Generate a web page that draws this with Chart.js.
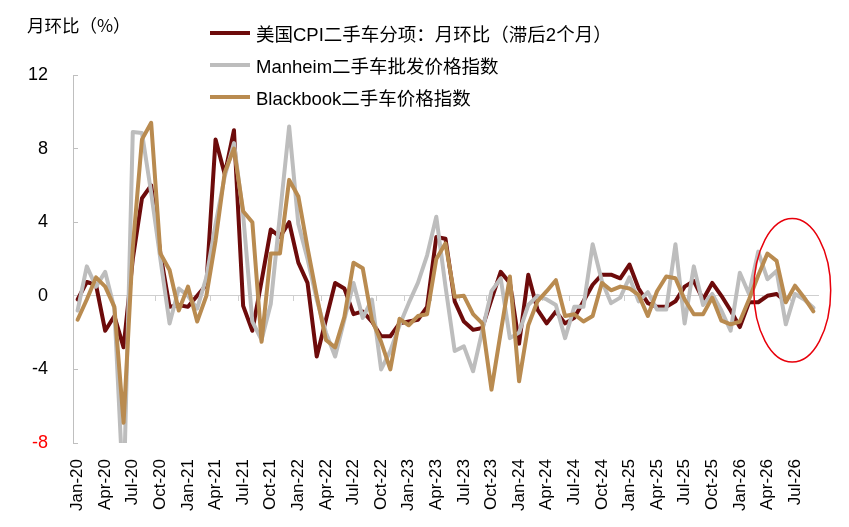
<!DOCTYPE html>
<html>
<head>
<meta charset="utf-8">
<script src="https://cdn.jsdelivr.net/npm/chart.js@4.4.1/dist/chart.umd.min.js"></script>
<style>
  body { margin: 0; background: #fff; }
  #wrap { position: relative; width: 849px; height: 527px; font-family: "Liberation Sans", "Noto Sans CJK SC", sans-serif; color: #000; }
  #yTitle { position: absolute; left: 27px; top: 14px; font-size: 17.5px; white-space: nowrap; font-family: "Noto Sans CJK SC", sans-serif; line-height: 22px; }
  #legend { position: absolute; left: 210px; top: 17px; font-size: 18.5px; }
  .item { height: 32px; display: flex; align-items: center; white-space: nowrap; }
  .swatch { width: 40px; height: 4px; margin-right: 6px; }
</style>
</head>
<body>
<div id="wrap">
  <canvas id="usedCarChart" width="849" height="527"></canvas>
  <div id="yTitle">月环比（%）</div>
  <div id="legend"></div>
</div>
<script>
// Month labels, Jan-20 .. Sep-26
var monthNames = ["Jan", "Feb", "Mar", "Apr", "May", "Jun", "Jul", "Aug", "Sep", "Oct", "Nov", "Dec"];
var labels = [];
for (var yr = 20; yr <= 26; yr++) {
  for (var m = 0; m < 12; m++) labels.push(monthNames[m] + "-" + yr);
}
labels = labels.slice(0, 81);

var seriesNames = ["美国CPI二手车分项：月环比（滞后2个月）", "Manheim二手车批发价格指数", "Blackbook二手车价格指数"];

// CPI used cars m/m, shifted 2 months (ends earlier)
var cpiUsedCars = [
  -0.2, 0.75, 0.6, -1.9, -1.1, -2.8, 2.0, 5.3, 6.0, 2.3,
  -0.6, -0.5, -0.6, 0.0, 0.6, 8.5, 6.6, 9.0, -0.55, -1.9,
  0.8, 3.6, 3.2, 4.0, 1.8, 0.7, -3.3, -1.3, 0.7, 0.4,
  -1.0, -0.85, -1.4, -2.2, -2.2, -1.5, -1.4, -1.3, -0.6, 3.2,
  3.1, -0.3, -1.4, -1.85, -1.75, -0.2, 1.3, 0.7, -2.6, 1.15,
  -0.75, -1.5, -0.85, -1.5, -1.2, -0.3, 0.6, 1.15, 1.15, 0.95,
  1.7, 0.4, -0.4, -0.6, -0.6, -0.3, 0.5, 0.8, -0.2, 0.7,
  0.0, -0.8, -1.7, -0.35, -0.35, 0.0, 0.1, -0.3
];

// Manheim wholesale used vehicle index m/m
var manheim = [
  -0.8, 1.6, 0.5, 1.3, -0.7, -11, 8.9, 8.85, 5.6, 2.0,
  -1.5, 0.4, 0.0, -0.7, 1.0, 3.9, 6.5, 8.3, 4.4, -1.4,
  -2.4, -0.45, 4.4, 9.2, 3.9, 2.0, -0.2, -2.0, -3.3, -1.3,
  0.7, -1.2, -0.2, -4.0, -3.0, -1.6, -0.4, 0.7, 2.2, 4.3,
  0.5, -3.0, -2.75, -4.1, -1.9, 0.25, 0.95, -2.3, -2.0, -0.5,
  0.0, -0.2, -0.5, -2.3, -0.6, -0.6, 2.8, 0.8, -0.4, -0.1,
  1.0, -0.3, 0.2, -0.75, -0.75, 2.8, -1.5, 1.6, -0.5, 0.1,
  -0.8, -1.9, 1.25, 0.1, 2.4, 0.9, 1.35, -1.55, 0.1, -0.2,
  -0.65
];

// Blackbook used vehicle index m/m
var blackbook = [
  -1.3, -0.2, 1.0, 0.5, -0.6, -6.9, 2.6, 8.5, 9.4, 2.3,
  1.4, -0.8, 0.5, -1.4, 0.0, 3.0, 6.7, 8.0, 4.6, 4.0,
  -2.5, 2.3, 2.3, 6.3, 5.4, 2.6, 0.0, -2.4, -2.8, -1.15,
  1.8, 1.5, -1.3, -2.5, -4.0, -1.25, -1.6, -1.1, -1.0, 2.0,
  2.85, -0.05, 0.0, -1.0, -1.5, -5.1, -2.0, 1.05, -4.65, -1.6,
  -0.3, 0.25, 0.85, -1.1, -1.0, -1.4, -1.1, 0.7, 0.3, 0.5,
  0.4, 0.05, -1.1, 0.25, 1.05, 0.95, -0.2, -1.0, -1.0, -0.1,
  -1.35, -1.55, -1.4, -0.2, 1.1, 2.3, 1.9, -0.35, 0.55, -0.1,
  -0.85
];

var yTicks = [-8, -4, 0, 4, 8, 12];

// red ellipse round the latest months (category index / value units)
var highlight = { center: 77.7, value: 0.3, halfMonths: 4.18, halfUnits: 3.9 };

var colors = ["#6D0B0B", "#BDBDBD", "#B98B50"];

Chart.defaults.font.family = '"Liberation Sans", "Noto Sans CJK SC", sans-serif';
Chart.defaults.color = "#000";

var ellipsePlugin = {
  id: "ellipse",
  afterDraw: function (chart) {
    var x = chart.scales.x, y = chart.scales.y, ctx = chart.ctx;
    var cx = x.getPixelForValue(highlight.center);
    var cy = y.getPixelForValue(highlight.value);
    var rx = Math.abs(x.getPixelForValue(highlight.center + highlight.halfMonths) - cx);
    var ry = Math.abs(y.getPixelForValue(highlight.value + highlight.halfUnits) - cy);
    ctx.save();
    ctx.beginPath();
    ctx.ellipse(cx, cy, rx, ry, 0, 0, Math.PI * 2);
    ctx.strokeStyle = "#E8000B";
    ctx.lineWidth = 1.5;
    ctx.stroke();
    ctx.restore();
  }
};

function lineSet(i, data, order) {
  return {
    label: seriesNames[i],
    data: data,
    borderColor: colors[i],
    backgroundColor: colors[i],
    borderWidth: 4,
    pointRadius: 0,
    tension: 0,
    fill: false,
    borderJoinStyle: "round",
    borderCapStyle: "round",
    order: order,
    xAxisID: "x",
    yAxisID: "y"
  };
}

var ctx = document.getElementById("usedCarChart").getContext("2d");
var myChart = new Chart(ctx, {
  type: "line",
  data: {
    labels: labels,
    datasets: [lineSet(0, cpiUsedCars, 3), lineSet(1, manheim, 2), lineSet(2, blackbook, 1)]
  },
  options: {
    responsive: false,
    animation: false,
    layout: { padding: { left: 28, right: 31, top: 75, bottom: 0 } },
    plugins: { legend: { display: false }, tooltip: { enabled: false } },
    scales: {
      x: {
        type: "category",
        offset: true,
        grid: { display: false },
        border: { display: false },
        ticks: {
          autoSkip: false,
          minRotation: 90,
          maxRotation: 90,
          padding: 8,
          font: { size: 17 },
          callback: function (v, i) { return i % 3 === 0 ? labels[i] : ""; }
        },
        afterFit: function (s) { s.height = 84; }
      },
      x2: {
        type: "category",
        position: { y: 0 },
        offset: true,
        grid: {
          offset: true,
          drawOnChartArea: false,
          tickLength: 5,
          tickColor: function (c) { return c.index % 3 === 0 && c.index < labels.length ? "#CFCFCF" : "rgba(0,0,0,0)"; }
        },
        border: { color: "#CFCFCF", width: 1 },
        ticks: { display: false }
      },
      y: {
        min: -8,
        max: 12,
        afterBuildTicks: function (s) { s.ticks = yTicks.map(function (v) { return { value: v }; }); },
        grid: { drawOnChartArea: false, tickLength: -5, color: "#BFBFBF" },
        border: { color: "#BFBFBF", width: 1 },
        ticks: {
          padding: 30,
          font: { size: 18 },
          color: function (c) { return c.tick && c.tick.value === -8 ? "#FF0000" : "#000"; }
        },
        afterFit: function (s) { s.width = 45; }
      }
    }
  },
  plugins: [ellipsePlugin]
});

// legend drawn as html over the plot
var legendDiv = document.getElementById("legend");
myChart.data.datasets.forEach(function (ds) {
  var item = document.createElement("div");
  item.className = "item";
  var sw = document.createElement("span");
  sw.className = "swatch";
  sw.style.background = ds.borderColor;
  var txt = document.createElement("span");
  txt.textContent = ds.label;
  item.appendChild(sw);
  item.appendChild(txt);
  legendDiv.appendChild(item);
});
</script>
</body>
</html>
